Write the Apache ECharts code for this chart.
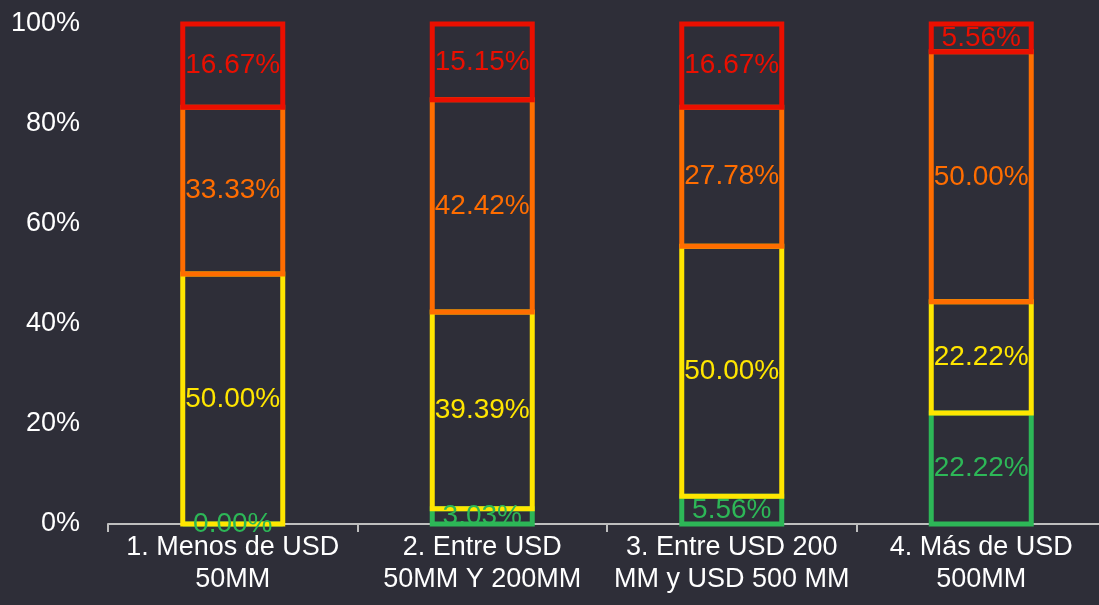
<!DOCTYPE html>
<html>
<head>
<meta charset="utf-8">
<script src="https://cdn.jsdelivr.net/npm/echarts@6/dist/echarts.min.js"></script>
<style>
  html, body { margin: 0; padding: 0; background: #2e2e38; }
  #chart { width: 1099px; height: 605px; }
</style>
</head>
<body>
<div id="chart"></div>
<script>
const categories = [
  '1. Menos de USD\n50MM',
  '2. Entre USD\n50MM Y 200MM',
  '3. Entre USD 200\nMM y USD 500 MM',
  '4. Más de USD\n500MM'
];
const greenValues = [0.00, 3.03, 5.56, 22.22];
const yellowValues = [50.00, 39.39, 50.00, 22.22];
const orangeValues = [33.33, 42.42, 27.78, 50.00];
const redValues = [16.67, 15.15, 16.67, 5.56];
const yTicks = [0, 20, 40, 60, 80, 100];

const fontFamily = '"Liberation Sans", Arial, sans-serif';
const segments = [
  { name: 'green', values: greenValues, color: '#2db757' },
  { name: 'yellow', values: yellowValues, color: '#ffe600' },
  { name: 'orange', values: orangeValues, color: '#ff6d00' },
  { name: 'red', values: redValues, color: '#ea0f00' }
];

// running totals so each segment knows where it starts
let bases = categories.map(() => 0);
const seriesList = segments.map(seg => {
  const data = seg.values.map((v, i) => {
    const item = [i, bases[i], bases[i] + v, v];
    bases[i] += v;
    return item;
  });
  return {
    name: seg.name,
    type: 'custom',
    data: data,
    encode: { x: 0, y: [1, 2] },
    renderItem: (params, api) => {
      const idx = api.value(0);
      const bottom = api.coord([idx, api.value(1)]);
      const top = api.coord([idx, api.value(2)]);
      const w = 100;
      return {
        type: 'group',
        children: [{
          type: 'rect',
          shape: { x: bottom[0] - w / 2, y: top[1], width: w, height: bottom[1] - top[1] },
          style: { fill: 'none', stroke: seg.color, lineWidth: 5 }
        }, {
          type: 'text',
          x: bottom[0],
          y: (bottom[1] + top[1]) / 2,
          z2: 100,
          style: {
            text: api.value(3).toFixed(2) + '%',
            fill: seg.color,
            fontSize: 28,
            fontFamily: fontFamily,
            align: 'center',
            verticalAlign: 'middle'
          }
        }]
      };
    }
  };
});

let chart = echarts.init(document.getElementById('chart'));
chart.setOption({
  backgroundColor: '#2e2e38',
  animation: false,
  grid: { left: 108, width: 998, top: 24, bottom: 81, outerBoundsMode: 'none', containLabel: false },
  xAxis: {
    type: 'category',
    data: categories,
    axisLine: { lineStyle: { color: '#bfbfbf', width: 2 } },
    axisTick: { show: true, length: 8, lineStyle: { color: '#bfbfbf', width: 2 } },
    axisLabel: {
      color: '#ffffff', fontSize: 27, fontFamily: fontFamily,
      lineHeight: 32, margin: 8, interval: 0
    }
  },
  yAxis: {
    type: 'value',
    min: yTicks[0],
    max: yTicks[yTicks.length - 1],
    interval: yTicks[1] - yTicks[0],
    axisLine: { show: false },
    axisTick: { show: false },
    splitLine: { show: false },
    axisLabel: {
      color: '#ffffff', fontSize: 27, fontFamily: fontFamily,
      margin: 28, formatter: '{value}%'
    }
  },
  series: seriesList
});
</script>
</body>
</html>
